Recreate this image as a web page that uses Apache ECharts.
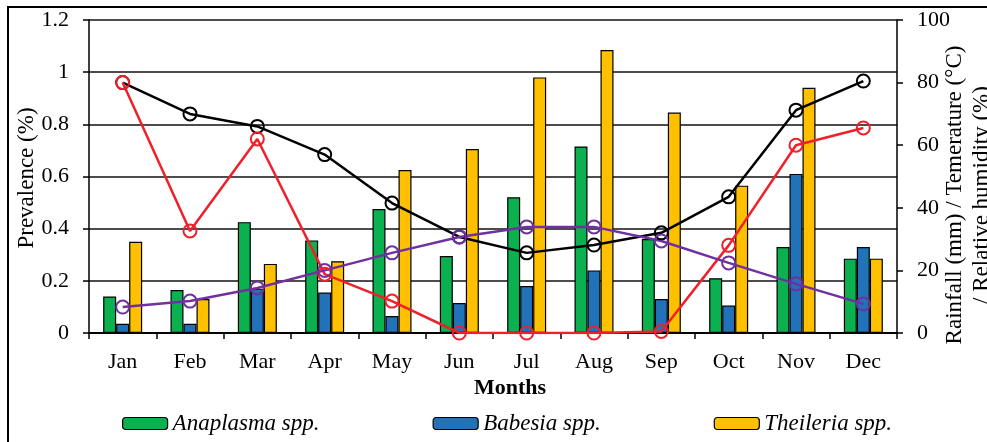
<!DOCTYPE html>
<html><head><meta charset="utf-8">
<script src="https://cdn.jsdelivr.net/npm/echarts@6/dist/echarts.min.js"></script>
<style>html,body{margin:0;padding:0;background:#fff}#c{width:987px;height:442px}</style>
</head><body><div id="c"></div>
<script>
const months = ['Jan','Feb','Mar','Apr','May','Jun','Jul','Aug','Sep','Oct','Nov','Dec'];
const anaplasma = [0.14,0.165,0.425,0.355,0.475,0.295,0.52,0.715,0.36,0.21,0.33,0.285];
const babesia   = [0.035,0.035,0.17,0.155,0.065,0.115,0.18,0.24,0.13,0.105,0.61,0.33];
const theileria = [0.35,0.13,0.265,0.275,0.625,0.705,0.98,1.085,0.845,0.565,0.94,0.285];
const blackLine  = [80,70,66,57,41.5,30.7,25.6,28.1,32,43.5,71.2,80.5];
const redLine    = [80,32.6,62,18.8,10.2,0,0,0,0.5,28,60,65.5];
const purpleLine = [8.3,10.2,14.4,20,25.6,30.7,33.9,33.9,29.4,22.4,15.7,9.3];
const leftTicks = {min:0, max:1.2, interval:0.2};
const rightTicks = {min:0, max:100, interval:20};

const FONT = '"Liberation Serif","Times New Roman",serif';
const chart = echarts.init(document.getElementById('c'));
function bar(name, data, color){
  return {name, type:'bar', data, barWidth:13, barGap:'0%', yAxisIndex:0,
    itemStyle:{color, borderColor:'#000', borderWidth:1.2}};
}
function line(data, color){
  return {type:'line', data, yAxisIndex:1, symbol:'circle', symbolSize:13, z:5,
    lineStyle:{color, width:2.5}, itemStyle:{color:'rgba(0,0,0,0)', borderColor:color, borderWidth:2}};
}
chart.setOption({
  animation:false,
  grid:{left:89, right:90, top:20, bottom:109, containLabel:false},
  legend:{left:117, top:407, itemWidth:45, itemHeight:12, itemGap:113,
    data:['Anaplasma spp.','Babesia spp.','Theileria spp.'],
    textStyle:{fontFamily:FONT, fontStyle:'italic', fontSize:23, color:'#000'},
    itemStyle:{borderColor:'#000', borderWidth:1.2}},
  xAxis:{type:'category', data:months,
    axisLine:{lineStyle:{color:'#000', width:2}},
    axisTick:{show:true, length:6, lineStyle:{color:'#000', width:1.5}},
    axisLabel:{fontFamily:FONT, fontSize:22, color:'#000', margin:18}},
  yAxis:[
    {type:'value', min:leftTicks.min, max:leftTicks.max, interval:leftTicks.interval,
     axisLine:{show:true, lineStyle:{color:'#000', width:1.5}},
     axisTick:{show:true, length:6, lineStyle:{color:'#000', width:1.5}},
     splitLine:{lineStyle:{color:'#111', width:1.5}},
     axisLabel:{fontFamily:FONT, fontSize:22, color:'#000', margin:20,
       formatter:v=>String(+v.toFixed(1))}},
    {type:'value', position:'right', min:rightTicks.min, max:rightTicks.max, interval:rightTicks.interval,
     axisLine:{show:true, lineStyle:{color:'#000', width:1.5}},
     axisTick:{show:true, length:6, lineStyle:{color:'#000', width:1.5}},
     splitLine:{show:false},
     axisLabel:{fontFamily:FONT, fontSize:22, color:'#000', margin:20}}
  ],
  series:[
    bar('Anaplasma spp.', anaplasma, '#0BB04F'),
    bar('Babesia spp.', babesia, '#2272BA'),
    bar('Theileria spp.', theileria, '#FFC000'),
    line(blackLine, '#000'),
    line(redLine, '#F0202A'),
    line(purpleLine, '#7030A0')
  ],
  graphic:[
    {type:'rect', shape:{x:8, y:7, width:1100, height:600}, style:{fill:'none', stroke:'#000', lineWidth:2}, silent:true},
    {type:'text', x:27, y:178, rotation:Math.PI/2, style:{text:'Prevalence (%)', font:'23px '+FONT, fill:'#000', align:'center', verticalAlign:'middle'}},
    {type:'text', x:510, y:388, style:{text:'Months', font:'bold 22px '+FONT, fill:'#000', align:'center', verticalAlign:'middle'}},
    {type:'text', x:955, y:195, rotation:Math.PI/2, style:{text:'Rainfall (mm) / Temerature (\u00B0C)', font:'23px '+FONT, fill:'#000', align:'center', verticalAlign:'middle'}},
    {type:'text', x:982, y:195, rotation:Math.PI/2, style:{text:'/ Relative humidity (%)', font:'23px '+FONT, fill:'#000', align:'center', verticalAlign:'middle'}}
  ]
});
</script></body></html>
